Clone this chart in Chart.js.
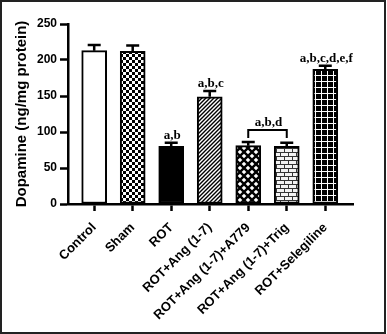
<!DOCTYPE html>
<html>
<head>
<meta charset="utf-8">
<script src="https://cdn.jsdelivr.net/npm/chart.js@4/dist/chart.umd.min.js"></script>
<style>
  html, body { margin: 0; padding: 0; background: #fff; }
  #wrap { width: 387px; height: 334px; position: relative; }
</style>
</head>
<body>
<div id="wrap"><canvas id="c" width="387" height="334"></canvas></div>
<script>
// Groups, mean dopamine and SEM
const groups = ['Control', 'Sham', 'ROT', 'ROT+Ang (1-7)', 'ROT+Ang (1-7)+A779', 'ROT+Ang (1-7)+Trig', 'ROT+Selegiline'];
const dopamine = [213, 212, 80, 149, 81, 80, 187];
const sem = [8, 8, 5, 8, 5, 5, 5];
// Significance letters written over single bars
const letters = ['', '', 'a,b', 'a,b,c', '', '', 'a,b,c,d,e,f'];
// Bracketed pairs sharing one letter set: [first index, last index, text]
const brackets = [[4, 5, 'a,b,d']];
const yTicks = [0, 50, 100, 150, 200, 250];

function tile(w, h, draw) {
  const c = document.createElement('canvas');
  c.width = w; c.height = h;
  const g = c.getContext('2d');
  draw(g, w, h);
  return document.createElement('canvas').getContext('2d').createPattern(c, 'repeat');
}

const checker = tile(6, 6, (g) => {
  g.fillStyle = '#fff'; g.fillRect(0, 0, 6, 6);
  g.fillStyle = '#000'; g.fillRect(0, 0, 3, 3); g.fillRect(3, 3, 3, 3);
});
const hatch = tile(4, 4, (g) => {
  g.fillStyle = '#fff'; g.fillRect(0, 0, 4, 4);
  g.strokeStyle = '#000'; g.lineWidth = 1.4;
  g.beginPath();
  g.moveTo(-1, 5); g.lineTo(5, -1);
  g.moveTo(-1, 1); g.lineTo(1, -1);
  g.moveTo(3, 5); g.lineTo(5, 3);
  g.stroke();
});
const diamonds = tile(8, 8, (g) => {
  g.fillStyle = '#000'; g.fillRect(0, 0, 8, 8);
  g.fillStyle = '#fff';
  const d = (x, y, r) => { g.beginPath(); g.moveTo(x, y - r); g.lineTo(x + r, y); g.lineTo(x, y + r); g.lineTo(x - r, y); g.closePath(); g.fill(); };
  d(4, 4, 2.3); d(0, 0, 2.3); d(8, 0, 2.3); d(0, 8, 2.3); d(8, 8, 2.3);
});
const bricks = tile(8, 8, (g) => {
  g.fillStyle = '#f2f2f2'; g.fillRect(0, 0, 8, 8);
  g.fillStyle = '#333';
  g.fillRect(0, 0, 8, 1); g.fillRect(0, 4, 8, 1);
  g.fillRect(0, 0, 1, 4); g.fillRect(4, 4, 1, 4);
});
const grid = tile(6, 6, (g) => {
  g.fillStyle = '#000'; g.fillRect(0, 0, 6, 6);
  g.fillStyle = '#fff';
  g.fillRect(3, 0, 1, 6); g.fillRect(0, 3, 6, 1);
});
const fills = ['#ffffff', checker, '#000000', hatch, diamonds, bricks, grid];

const SANS = "'Liberation Sans', Arial, sans-serif";
const SERIF = "'Liberation Serif', 'Times New Roman', serif";

const annotate = {
  id: 'annotate',
  afterDatasetsDraw(chart) {
    const ctx = chart.ctx;
    const ys = chart.scales.y;
    const bars = chart.getDatasetMeta(0).data;
    const capTop = [];
    ctx.save();
    ctx.strokeStyle = '#000';
    ctx.lineWidth = 2.5;
    bars.forEach((b, i) => {
      const top = ys.getPixelForValue(dopamine[i] + sem[i]);
      capTop[i] = top;
      ctx.beginPath();
      ctx.moveTo(b.x, b.y); ctx.lineTo(b.x, top);
      ctx.moveTo(b.x - 6.5, top); ctx.lineTo(b.x + 6.5, top);
      ctx.stroke();
    });
    ctx.fillStyle = '#000';
    ctx.font = 'bold 13px ' + SERIF;
    ctx.textAlign = 'center';
    ctx.textBaseline = 'alphabetic';
    letters.forEach((t, i) => {
      if (t) ctx.fillText(t, bars[i].x + 1, capTop[i] - 4);
    });
    ctx.lineWidth = 2;
    brackets.forEach(([a, z, t]) => {
      const base = Math.min(capTop[a], capTop[z]);
      const legBottom = base - 4, barY = base - 12;
      ctx.beginPath();
      ctx.moveTo(bars[a].x, legBottom); ctx.lineTo(bars[a].x, barY);
      ctx.lineTo(bars[z].x, barY); ctx.lineTo(bars[z].x, legBottom);
      ctx.stroke();
      ctx.fillText(t, (bars[a].x + bars[z].x) / 2 + 1, barY - 4);
    });
    ctx.restore();
  },
  afterDraw(chart) {
    const ctx = chart.ctx;
    ctx.save();
    ctx.strokeStyle = '#222';
    ctx.lineWidth = 2;
    ctx.strokeRect(1, 1, 384, 332);
    ctx.restore();
  }
};

new Chart(document.getElementById('c'), {
  type: 'bar',
  data: {
    datasets: [{
      data: dopamine.map((v, i) => ({ x: i, y: v })),
      backgroundColor: fills,
      borderColor: '#000',
      borderWidth: 2,
      borderSkipped: false,
      barThickness: 25
    }]
  },
  options: {
    responsive: false,
    animation: false,
    layout: { padding: { left: 0, top: 24, right: 34, bottom: 0 } },
    plugins: { legend: { display: false }, tooltip: { enabled: false } },
    scales: {
      x: {
        type: 'linear',
        offset: false,
        min: -0.68,
        max: 6.72,
        afterBuildTicks: (s) => { s.ticks = groups.map((_, i) => ({ value: i })); },
        afterFit: (s) => { s.height = 130; },
        grid: { offset: false, drawOnChartArea: false, drawTicks: true, tickLength: 7, tickWidth: 2.5, tickColor: '#000' },
        border: { display: true, color: '#000', width: 2.5 },
        ticks: {
          autoSkip: false,
          minRotation: 45,
          maxRotation: 45,
          padding: 9,
          color: '#000',
          font: { family: SANS, size: 13, weight: 'bold' },
          callback: (v, i) => groups[i]
        }
      },
      y: {
        min: 0,
        max: 250,
        afterBuildTicks: (s) => { s.ticks = yTicks.map(v => ({ value: v })); },
        afterFit: (s) => { s.width = 68; },
        grid: { drawOnChartArea: false, drawTicks: true, tickLength: 8, tickWidth: 2.5, tickColor: '#000' },
        border: { display: true, color: '#000', width: 2.5 },
        ticks: {
          padding: 3,
          color: '#000',
          font: { family: SANS, size: 12, weight: 'bold' }
        },
        title: {
          display: true,
          text: 'Dopamine (ng/mg protein)',
          color: '#000',
          padding: { top: 13, bottom: 0 },
          font: { family: SANS, size: 15, weight: 'bold' }
        }
      }
    }
  },
  plugins: [annotate]
});
</script>
</body>
</html>
